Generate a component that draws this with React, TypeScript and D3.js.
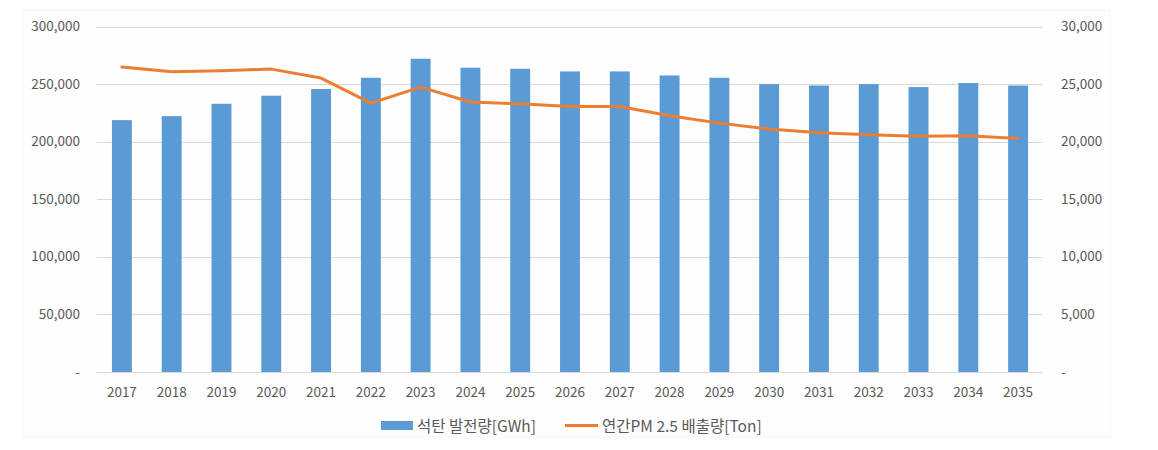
import { useEffect } from "react"
import * as d3 from "d3"

const years = [
  "2017", "2018", "2019", "2020", "2021", "2022", "2023", "2024", "2025", "2026",
  "2027", "2028", "2029", "2030", "2031", "2032", "2033", "2034", "2035",
]

// 석탄 발전량 [GWh] (left axis)
const coalGen = [
  218700, 222200, 232900, 239900, 245700, 255500, 272000, 264200, 263300, 261000,
  261000, 257500, 255500, 250000, 248800, 250000, 247400, 250900, 248800,
]

// 연간 PM 2.5 배출량 [Ton] (right axis)
const pm25 = [
  26480, 26070, 26160, 26300, 25520, 23350, 24740, 23440, 23290, 23060,
  23060, 22250, 21610, 21090, 20770, 20600, 20480, 20510, 20280,
]

const leftTicks = [0, 50000, 100000, 150000, 200000, 250000, 300000]
const rightTicks = [0, 5000, 10000, 15000, 20000, 25000, 30000]

const BAR = "#5B9BD5"
const LINE = "#ED7D31"
const GRID = "#D9D9D9"
const TEXT = "#595959"
const FONT = "'Noto Sans CJK KR', 'Open Sans', sans-serif"

const W = 1158
const H = 450
const M = { left: 97, right: 1043, top: 26.5, bottom: 372 }

const fmt = (n: number) => (n === 0 ? "-" : d3.format(",")(n))

export default function App() {
  useEffect(() => {
    document.body.style.margin = "0"
  }, [])

  const x = d3
    .scaleBand<string>()
    .domain(years)
    .range([M.left, M.right])
    .paddingInner(0.6)
    .paddingOuter(0.3)
  const yL = d3.scaleLinear().domain([0, 300000]).range([M.bottom, M.top])
  const yR = d3.scaleLinear().domain([0, 30000]).range([M.bottom, M.top])
  const cx = (yr: string) => (x(yr) ?? 0) + x.bandwidth() / 2

  const line = d3
    .line<number>()
    .x((_, i) => cx(years[i]))
    .y((d) => yR(d))

  return (
    <svg width={W} height={H} style={{ display: "block", background: "#fff" }} fontFamily={FONT}>
      <rect x={23} y={10} width={1087} height={427} fill="#fefefe" stroke="#f8f8f8" />

      {/* gridlines */}
      <g>
        {leftTicks.map((t) => (
          <line
            key={t}
            x1={M.left}
            x2={M.right}
            y1={Math.round(yL(t)) + 0.5}
            y2={Math.round(yL(t)) + 0.5}
            stroke={GRID}
            strokeWidth={1}
          />
        ))}
      </g>

      {/* left axis labels */}
      <g fontSize={13.5} fill={TEXT} textAnchor="end">
        {leftTicks.map((t) => (
          <text key={t} x={80} y={yL(t) + 4.5}>
            {fmt(t)}
          </text>
        ))}
      </g>

      {/* right axis labels */}
      <g fontSize={13.5} fill={TEXT} textAnchor="start">
        {rightTicks.map((t) => (
          <text key={t} x={1061} y={yR(t) + 4.5}>
            {fmt(t)}
          </text>
        ))}
      </g>

      {/* bars */}
      <g>
        {coalGen.map((v, i) => (
          <rect
            key={years[i]}
            x={x(years[i])}
            y={yL(v)}
            width={x.bandwidth()}
            height={yL(0) - yL(v)}
            fill={BAR}
          />
        ))}
      </g>

      {/* PM 2.5 line */}
      <path
        d={line(pm25) ?? undefined}
        fill="none"
        stroke={LINE}
        strokeWidth={3}
        strokeLinejoin="round"
        strokeLinecap="round"
      />

      {/* x labels */}
      <g fontSize={13.5} fill={TEXT} textAnchor="middle">
        {years.map((yr) => (
          <text key={yr} x={cx(yr)} y={397}>
            {yr}
          </text>
        ))}
      </g>

      {/* legend */}
      <g fontSize={15.5} fill={TEXT}>
        <rect x={381} y={421} width={32} height={9} fill={BAR} />
        <text x={417} y={431.5}>석탄 발전량[GWh]</text>
        <line x1={565} x2={598} y1={425.5} y2={425.5} stroke={LINE} strokeWidth={3} />
        <text x={602} y={431.5}>연간PM 2.5 배출량[Ton]</text>
      </g>
    </svg>
  )
}
